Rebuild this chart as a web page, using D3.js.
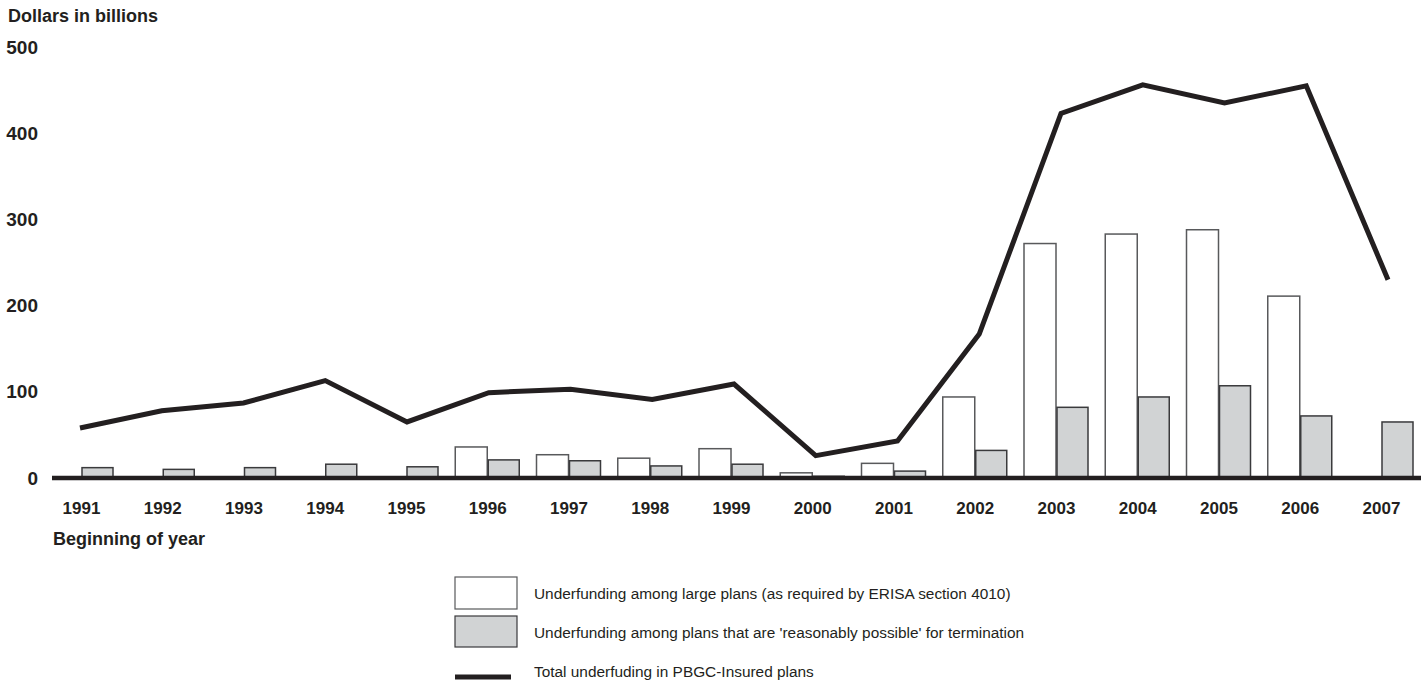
<!DOCTYPE html>
<html>
<head>
<meta charset="utf-8">
<script src="https://cdn.jsdelivr.net/npm/d3@7"></script>
<style>
  body { margin: 0; background: #fff; }
  text { font-family: "Liberation Sans", Arial, sans-serif; fill: #231f20; }
</style>
</head>
<body>
<script>
// Data (dollars in billions)
const years = [1991, 1992, 1993, 1994, 1995, 1996, 1997, 1998, 1999, 2000, 2001, 2002, 2003, 2004, 2005, 2006, 2007];
const largePlans = [null, null, null, null, null, 36, 27, 23, 34, 6, 17, 94, 272, 283, 288, 211, null];
const reasonablyPossible = [12, 10, 12, 16, 13, 21, 20, 14, 16, 2, 8, 32, 82, 94, 107, 72, 65];
const totalUnderfunding = [58, 78, 87, 113, 65, 99, 103, 91, 109, 26, 43, 167, 423, 456, 435, 455, 230];
const yTicks = [0, 100, 200, 300, 400, 500];

const width = 1428;
const height = 685;
const barW = 32;

const svg = d3.select('body')
  .append('svg')
  .attr('width', width)
  .attr('height', height);

// Scales: bars/labels and the line sit on slightly different x grids in the original
const x = d3.scaleLinear()
  .domain([1991, 2007])
  .range([81, 1381]);

const xLine = d3.scaleLinear()
  .domain([1991, 2007])
  .range([80, 1388]);

const y = d3.scaleLinear()
  .domain([0, 500])
  .range([478, 47]);

// Y-axis labels (right aligned)
svg.append('g')
  .attr('transform', 'translate(38,0)')
  .call(d3.axisLeft(y).tickValues(yTicks).tickSize(0).tickPadding(0))
  .call(g => g.select('.domain').remove())
  .selectAll('text')
  .attr('font-family', '"Liberation Sans", Arial, sans-serif')
  .attr('font-size', 19)
  .attr('font-weight', 'bold')
  .attr('fill', '#231f20');

svg.append('text')
  .attr('x', 8)
  .attr('y', 22)
  .attr('font-size', 18)
  .attr('font-weight', 'bold')
  .text('Dollars in billions');

// White bars (large plans)
svg.selectAll('.bar-large')
  .data(years.map((yr, i) => ({ yr, v: largePlans[i] })).filter(d => d.v != null))
  .enter()
  .append('rect')
  .attr('class', 'bar-large')
  .attr('x', d => x(d.yr) - barW)
  .attr('y', d => y(d.v))
  .attr('width', barW)
  .attr('height', d => y(0) - y(d.v))
  .attr('fill', '#fff')
  .attr('stroke', '#58595b')
  .attr('stroke-width', 1.5);

// Gray bars (reasonably possible)
svg.selectAll('.bar-rp')
  .data(years.map((yr, i) => ({ yr, v: reasonablyPossible[i] })))
  .enter()
  .append('rect')
  .attr('class', 'bar-rp')
  .attr('x', d => x(d.yr) + 1)
  .attr('y', d => y(d.v))
  .attr('width', barW - 1)
  .attr('height', d => y(0) - y(d.v))
  .attr('fill', '#d1d3d4')
  .attr('stroke', '#3a3a3c')
  .attr('stroke-width', 1.5);

// Baseline
svg.append('line')
  .attr('x1', 52)
  .attr('x2', 1421)
  .attr('y1', y(0))
  .attr('y2', y(0))
  .attr('stroke', '#231f20')
  .attr('stroke-width', 4.5);

// Total underfunding line
const line = d3.line()
  .x((d, i) => xLine(years[i]))
  .y(d => y(d));

svg.append('path')
  .datum(totalUnderfunding)
  .attr('d', line)
  .attr('fill', 'none')
  .attr('stroke', '#231f20')
  .attr('stroke-width', 5);

// X-axis labels
svg.append('g')
  .attr('transform', 'translate(0,502)')
  .call(d3.axisBottom(x).tickValues(years).tickFormat(d3.format('d')).tickSize(0).tickPadding(0))
  .call(g => g.select('.domain').remove())
  .selectAll('text')
  .attr('font-family', '"Liberation Sans", Arial, sans-serif')
  .attr('font-size', 17)
  .attr('font-weight', 'bold')
  .attr('fill', '#231f20');

svg.append('text')
  .attr('x', 53)
  .attr('y', 545)
  .attr('font-size', 18)
  .attr('font-weight', 'bold')
  .text('Beginning of year');

// Legend
const legend = svg.append('g').attr('transform', 'translate(455,577)');

legend.append('rect')
  .attr('x', 0).attr('y', 0).attr('width', 62).attr('height', 32)
  .attr('fill', '#fff').attr('stroke', '#58595b').attr('stroke-width', 1.2);
legend.append('rect')
  .attr('x', 0).attr('y', 39).attr('width', 62).attr('height', 31)
  .attr('fill', '#d1d3d4').attr('stroke', '#3a3a3c').attr('stroke-width', 1.2);
legend.append('line')
  .attr('x1', 0).attr('x2', 56).attr('y1', 100).attr('y2', 100)
  .attr('stroke', '#231f20').attr('stroke-width', 5);

const legendLabels = [
  'Underfunding among large plans (as required by ERISA section 4010)',
  "Underfunding among plans that are 'reasonably possible' for termination",
  'Total underfuding in PBGC-Insured plans'
];
legend.selectAll('.legend-label')
  .data(legendLabels)
  .enter()
  .append('text')
  .attr('class', 'legend-label')
  .attr('x', 79)
  .attr('y', (d, i) => 22 + i * 39)
  .attr('font-size', 15.4)
  .text(d => d);
</script>
</body>
</html>
